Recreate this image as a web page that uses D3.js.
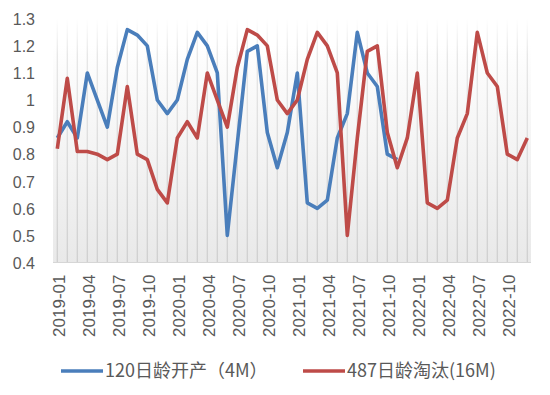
<!DOCTYPE html>
<html>
<head>
<meta charset="utf-8">
<script src="https://cdn.jsdelivr.net/npm/d3@7"></script>
<style>
  html, body { margin: 0; padding: 0; background: #fff; }
  svg { display: block; font-family: "Noto Sans CJK SC", "Open Sans", sans-serif; }
</style>
</head>
<body>
<div id="chart"></div>
<script>
// monthly categories 2019-01 .. 2022-12
const months = d3.timeMonth.range(new Date(2019, 0, 1), new Date(2023, 0, 1)).map(d3.timeFormat('%Y-%m'));
const tickLabels = months.filter((m, i) => i % 3 === 0);
const yTicks = [0.4, 0.5, 0.6, 0.7, 0.8, 0.9, 1, 1.1, 1.2, 1.3];

const seriesNames = ['120日龄开产（4M）', '487日龄淘汰(16M)'];
const seriesColors = ['#4a7ebb', '#be4b48'];

const start120 = [
  0.86, 0.92, 0.86, 1.10, 1.00, 0.90, 1.12, 1.26, 1.24, 1.20, 1.00, 0.95,
  1.00, 1.15, 1.25, 1.20, 1.10, 0.50, 0.84, 1.18, 1.20, 0.88, 0.75, 0.88,
  1.10, 0.62, 0.60, 0.63, 0.86, 0.95, 1.25, 1.10, 1.05, 0.80, 0.78, null,
  null, null, null, null, null, null, null, null, null, null, null, null
];
const cull487 = [
  0.82, 1.08, 0.81, 0.81, 0.80, 0.78, 0.80, 1.05, 0.80, 0.78, 0.67, 0.62,
  0.86, 0.92, 0.86, 1.10, 1.00, 0.90, 1.12, 1.26, 1.24, 1.20, 1.00, 0.95,
  1.00, 1.15, 1.25, 1.20, 1.10, 0.50, 0.86, 1.18, 1.20, 0.88, 0.75, 0.86,
  1.10, 0.62, 0.60, 0.63, 0.86, 0.95, 1.25, 1.10, 1.05, 0.80, 0.78, 0.86
];

const width = 550, height = 395;
const svg = d3.select('#chart').append('svg')
  .attr('width', width).attr('height', height)
  .attr('viewBox', `0 0 ${width} ${height}`);

const x = d3.scalePoint().domain(months).range([57.3, 527.3]);
const y = d3.scaleLinear().domain([0.4, 1.3]).range([262.5, 18.8]);

const defs = svg.append('defs');
const bg = defs.append('linearGradient').attr('id', 'bg')
  .attr('x1', 0).attr('y1', 0).attr('x2', 0).attr('y2', 1);
bg.append('stop').attr('offset', '0%').attr('stop-color', '#ffffff');
bg.append('stop').attr('offset', '15%').attr('stop-color', '#fbfbfb');
bg.append('stop').attr('offset', '100%').attr('stop-color', '#e9e9e9');

const gl = defs.append('linearGradient').attr('id', 'grid')
  .attr('gradientUnits', 'userSpaceOnUse')
  .attr('x1', 0).attr('y1', y(1.3)).attr('x2', 0).attr('y2', y(0.4));
gl.append('stop').attr('offset', '0%').attr('stop-color', '#ffffff');
gl.append('stop').attr('offset', '15%').attr('stop-color', '#e6e6e6');
gl.append('stop').attr('offset', '100%').attr('stop-color', '#cfcfcf');

// plot area
svg.append('rect')
  .attr('x', 53).attr('y', 45)
  .attr('width', 478).attr('height', y(0.4) - 45)
  .attr('fill', 'url(#bg)');

// vertical gridlines at each month
svg.append('g').selectAll('line').data(months).join('line')
  .attr('x1', d => x(d)).attr('x2', d => x(d))
  .attr('y1', y(1.3)).attr('y2', y(0.4))
  .attr('stroke', 'url(#grid)').attr('stroke-width', 1.3);

svg.append('line')
  .attr('x1', 53).attr('x2', 531).attr('y1', y(0.4)).attr('y2', y(0.4))
  .attr('stroke', '#d6d6d6').attr('stroke-width', 1);

// y axis
const yAxis = svg.append('g')
  .attr('transform', 'translate(35,0)')
  .call(d3.axisLeft(y).tickValues(yTicks).tickSize(0).tickPadding(0).tickFormat(d3.format('~g')));
yAxis.select('.domain').remove();
yAxis.selectAll('text')
  .attr('fill', '#595959').style('font-size', '16px').attr('dy', '0.36em');

// x axis
const xAxis = svg.append('g')
  .attr('transform', `translate(0,${y(0.4)})`)
  .call(d3.axisBottom(x).tickValues(tickLabels).tickSize(0).tickPadding(0));
xAxis.select('.domain').remove();
xAxis.selectAll('text')
  .attr('fill', '#595959').style('font-size', '17px')
  .attr('text-anchor', 'end')
  .attr('transform', 'translate(1,12) rotate(-90)')
  .attr('x', 0).attr('y', 0).attr('dy', '0.36em');

// lines
const line = d3.line()
  .defined(d => d.v != null)
  .x(d => x(d.m)).y(d => y(d.v));

[start120, cull487].forEach((vals, k) => {
  svg.append('path')
    .datum(vals.map((v, i) => ({ m: months[i], v })))
    .attr('fill', 'none')
    .attr('stroke', seriesColors[k])
    .attr('stroke-width', 3.6)
    .attr('stroke-linejoin', 'round')
    .attr('d', line);
});

// legend
const legendX = [61, 303];
const legend = svg.append('g').selectAll('g').data(seriesNames).join('g')
  .attr('transform', (d, i) => `translate(${legendX[i]},371)`);
legend.append('line')
  .attr('x1', 0).attr('x2', 42).attr('y1', 0).attr('y2', 0)
  .attr('stroke', (d, i) => seriesColors[i]).attr('stroke-width', 3.6);
legend.append('text')
  .attr('x', 44).attr('y', 0).attr('dy', '0.36em')
  .attr('fill', '#595959').style('font-size', '18px')
  .text(d => d);
</script>
</body>
</html>
